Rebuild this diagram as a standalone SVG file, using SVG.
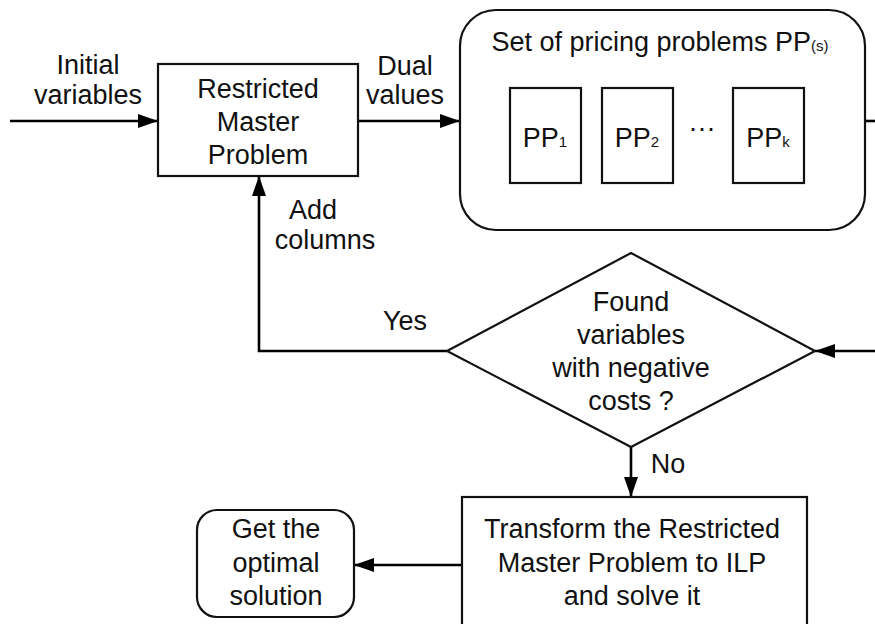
<svg xmlns="http://www.w3.org/2000/svg" width="875" height="624" viewBox="0 0 875 624">
<defs>
<marker id="ah" markerWidth="20" markerHeight="14" refX="20" refY="7" orient="auto" markerUnits="userSpaceOnUse">
<path d="M0,0 L20,7 L0,14 Z" fill="#000"/>
</marker>
<style>
text{font-family:"Liberation Sans",Arial,sans-serif;font-size:27px;fill:#111;text-anchor:middle}
.sh{fill:#fff;stroke:#111;stroke-width:2.2}
.ln{fill:none;stroke:#000;stroke-width:2.6}
.sub{font-size:15px}
</style>
</defs>
<rect width="875" height="624" fill="#fff"/>
<g id="connectors">
<line class="ln" x1="10" y1="121" x2="158" y2="121" marker-end="url(#ah)"/>
<line class="ln" x1="358" y1="121" x2="460" y2="121" marker-end="url(#ah)"/>
<line class="ln" x1="865" y1="121" x2="875" y2="121"/>
<line class="ln" x1="875" y1="351" x2="815" y2="351" marker-end="url(#ah)"/>
<polyline class="ln" points="447,351 259,351 259,176" marker-end="url(#ah)"/>
<line class="ln" x1="631" y1="447" x2="631" y2="497" marker-end="url(#ah)"/>
<line class="ln" x1="462" y1="565" x2="354" y2="565" marker-end="url(#ah)"/>
<text x="88" y="74">Initial</text>
<text x="88" y="104">variables</text>
<text x="405" y="75">Dual</text>
<text x="405" y="104">values</text>
<text x="313" y="219">Add</text>
<text x="325" y="249">columns</text>
<text x="405" y="330">Yes</text>
<text x="668" y="473">No</text>
</g>
<g id="rmp">
<rect class="sh" x="158" y="64" width="200" height="112"/>
<text x="258" y="98">Restricted</text>
<text x="258" y="131">Master</text>
<text x="258" y="164">Problem</text>
</g>
<g id="pricing">
<rect class="sh" x="460" y="10" width="405" height="220" rx="36" ry="36"/>
<text x="660" y="51">Set of pricing problems PP<tspan class="sub">(s)</tspan></text>
</g>
<g id="pp1">
<rect class="sh" x="510" y="88" width="71" height="95"/>
<text x="545" y="147">PP<tspan class="sub">1</tspan></text>
</g>
<g id="pp2">
<rect class="sh" x="602" y="88" width="71" height="95"/>
<text x="637" y="147">PP<tspan class="sub">2</tspan></text>
</g>
<text x="702" y="137">···</text>
<g id="ppk">
<rect class="sh" x="733" y="88" width="71" height="95"/>
<text x="768" y="147">PP<tspan class="sub">k</tspan></text>
</g>
<g id="decision">
<polygon class="sh" points="631,253 815,351 631,447 447,351"/>
<text x="631" y="311">Found</text>
<text x="631" y="344">variables</text>
<text x="631" y="377">with negative</text>
<text x="631" y="410">costs ?</text>
</g>
<g id="transform">
<rect class="sh" x="462" y="497" width="345" height="140"/>
<text x="632" y="538">Transform the Restricted</text>
<text x="632" y="572">Master Problem to ILP</text>
<text x="632" y="605">and solve it</text>
</g>
<g id="optimal">
<rect class="sh" x="197" y="510" width="157" height="107" rx="20" ry="20"/>
<text x="276" y="538">Get the</text>
<text x="276" y="572">optimal</text>
<text x="276" y="605">solution</text>
</g>
</svg>
